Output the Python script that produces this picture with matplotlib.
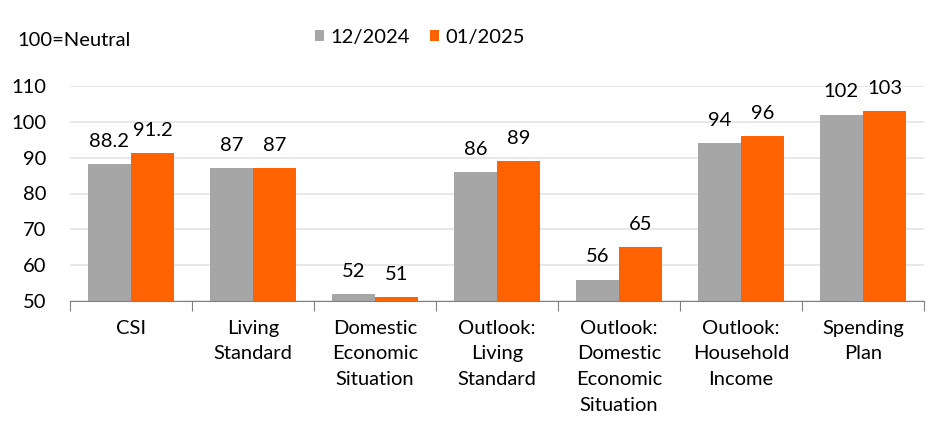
import matplotlib.pyplot as plt
import numpy as np

# categories and values
categories = ["CSI", "Living\nStandard", "Domestic\nEconomic\nSituation",
              "Outlook:\nLiving\nStandard", "Outlook:\nDomestic\nEconomic\nSituation",
              "Outlook:\nHousehold\nIncome", "Spending\nPlan"]
dec_2024 = [88.2, 87, 52, 86, 56, 94, 102]
jan_2025 = [91.2, 87, 51, 89, 65, 96, 103]
labels_dec = ["88.2", "87", "52", "86", "56", "94", "102"]
labels_jan = ["91.2", "87", "51", "89", "65", "96", "103"]
yticks = [50, 60, 70, 80, 90, 100, 110]

plt.rcParams['font.family'] = ['Lato', 'DejaVu Sans']
fs = 14.5

fig = plt.figure(figsize=(9.53, 4.34), dpi=100)
ax = fig.add_axes([70/953, 133/434, 854/953, (301-86)/434])

x = np.arange(len(categories))
w = 0.355
b1 = ax.bar(x - w/2, np.array(dec_2024) - 50, w, bottom=50, color="#A6A6A6", label="12/2024", zorder=3)
b2 = ax.bar(x + w/2, np.array(jan_2025) - 50, w, bottom=50, color="#FF6200", label="01/2025", zorder=3)

for xi, v, t in zip(x - w/2, dec_2024, labels_dec):
    ax.text(xi, v + 4.8, t, ha="center", va="baseline", fontsize=fs)
for xi, v, t in zip(x + w/2, jan_2025, labels_jan):
    ax.text(xi, v + 4.8, t, ha="center", va="baseline", fontsize=fs)

ax.set_xlim(-0.5, len(categories) - 0.5)
ax.set_ylim(50, 110)
ax.set_yticks(yticks)
ax.tick_params(axis="y", length=0, labelsize=fs, pad=17)
ax.grid(axis="y", color="#E6E6E6", linewidth=1.3, zorder=0)

# category labels between tick marks
ax.set_xticks(np.arange(len(categories) + 1) - 0.5)
ax.set_xticklabels([])
ax.tick_params(axis="x", direction="out", length=7, color="#808080")
for xi, c in zip(x, categories):
    ax.text(xi, 50 - 5.2, c, ha="center", va="top", fontsize=fs, linespacing=1.63)

for s in ["left", "right", "top"]:
    ax.spines[s].set_visible(False)
ax.spines["bottom"].set_color("#808080")
ax.spines["bottom"].set_zorder(4)

fig.text(17/953, 1 - 41/434, "100=Neutral", fontsize=fs, va="center", ha="left")
fig.legend(handles=[b1, b2], loc="center", bbox_to_anchor=(420/953, 1 - 37/434), ncol=2,
           frameon=False, fontsize=fs, handlelength=0.45, handleheight=0.45,
           handletextpad=0.3, columnspacing=1.0)

fig.savefig("out.png", dpi=100)
